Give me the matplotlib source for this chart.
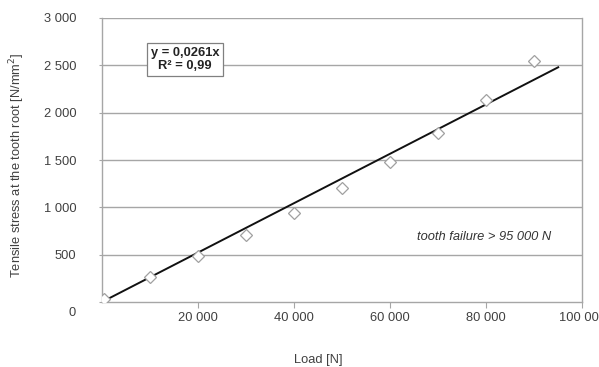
import matplotlib
matplotlib.use("Agg")
import matplotlib.pyplot as plt
import matplotlib.transforms as mtransforms
import numpy as np

plt.rcParams["font.family"] = ["Liberation Sans", "DejaVu Sans"]

# measured points
load = [500, 10000, 20000, 30000, 40000, 50000, 60000, 70000, 80000, 90000]
stress = [30, 260, 490, 710, 940, 1200, 1480, 1790, 2130, 2550]

# trendline from the chart label
slope = 0.0261
fit_end = 95000

x_ticks = [20000, 40000, 60000, 80000, 100000]
y_ticks = [0, 500, 1000, 1500, 2000, 2500, 3000]


def spaced(v):
    return f"{v:,}".replace(",", " ")


fig = plt.figure(figsize=(5.99, 3.67), dpi=100)
ax = fig.add_axes([0.170, 0.177, 0.802, 0.774])

grid_col = "#a6a6a6"
text_col = "#404040"
fs = 9.3

for y in y_ticks[1:]:
    ax.axhline(y, color=grid_col, lw=1.0, zorder=1)

fit_x = np.array([0, fit_end])
ax.plot(fit_x, slope * fit_x, color="#111111", lw=1.4, zorder=3)
ax.plot(load, stress, linestyle="none", marker="D", markersize=6,
        markerfacecolor="white", markeredgecolor="#a0a0a0", markeredgewidth=0.9, zorder=4)

ax.set_xlim(0, 100000)
ax.set_ylim(0, 3000)
ax.set_xticks(x_ticks)
ax.set_xticklabels([spaced(v) for v in x_ticks])
ax.set_yticks(y_ticks)
ax.set_yticklabels([spaced(v) for v in y_ticks])

for side in ["left", "right", "bottom"]:
    ax.spines[side].set_color(grid_col)
    ax.spines[side].set_linewidth(1.0)
ax.spines["top"].set_visible(False)

ax.tick_params(axis="x", colors=grid_col, labelcolor=text_col, labelsize=fs,
               length=4, direction="out", pad=3)
ax.tick_params(axis="y", colors=grid_col, labelcolor=text_col, labelsize=fs,
               length=2.5, direction="out", pad=16)

# the zero label sits a little low in the original
ylabels = ax.get_yticklabels()
ylabels[0].set_transform(ylabels[0].get_transform() +
                         mtransforms.ScaledTranslation(0, -9 / 100, fig.dpi_scale_trans))

fig.text(318 / 599, 1 - 360 / 367, "Load [N]", fontsize=fs, color=text_col,
         ha="center", va="center")
fig.text(17 / 599, 1 - 165 / 367, "Tensile stress at the tooth root [N/mm$^2$]",
         fontsize=fs, color=text_col, rotation=90, ha="center", va="center")

ax.text(17300, 2560, "y = 0,0261x\nR² = 0,99", fontsize=fs, fontweight="bold",
        color="#222222", ha="center", va="center", linespacing=1.1, zorder=5,
        bbox=dict(boxstyle="square,pad=0.32", facecolor="white", edgecolor="#808080", lw=0.9))

ax.text(93600, 690, "tooth failure > 95 000 N", fontsize=fs, style="italic",
        color="#333333", ha="right", va="center")

fig.savefig("out.png", dpi=100)
